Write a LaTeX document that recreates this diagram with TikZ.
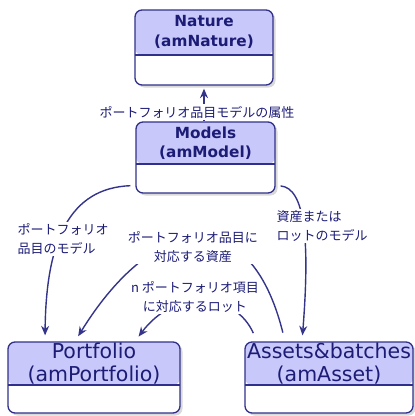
\documentclass[tikz,border=0pt]{standalone}
\usepackage{fontspec}
\setmainfont{DejaVu Sans}
\newfontfamily\jp{Noto Sans CJK JP}
\usetikzlibrary{arrows.meta,shadows,calc}
\definecolor{navy}{RGB}{28,28,118}
\definecolor{edge}{RGB}{48,48,138}
\definecolor{head}{RGB}{200,200,250}
\definecolor{wire}{RGB}{52,52,138}
\begin{document}
\begin{tikzpicture}[x=1pt,y=-1pt,
  box/.style={draw=edge, line width=1.3pt, rounded corners=7pt, fill=white,
    drop shadow={shadow xshift=2.5pt,shadow yshift=-2.5pt,opacity=0.3,fill=gray},
    inner sep=0pt},
  hdr/.style={path picture={
    \fill[head] (path picture bounding box.north west) rectangle ([yshift=-#1]path picture bounding box.north east);
    \draw[edge,line width=1.3pt] ([yshift=-#1]path picture bounding box.north west) -- ([yshift=-#1]path picture bounding box.north east);}},
  title/.style={font=\bfseries\fontsize{15.3}{19.5}\selectfont, text=navy, align=center, inner sep=0pt},
  bigtitle/.style={font=\fontsize{20.5}{23}\selectfont, text=navy, align=center, inner sep=0pt},
  lbl/.style={font=\jp\fontsize{13}{18.5}\selectfont, text=navy, fill=white, inner sep=1.5pt},
  arr/.style={draw=wire, line width=1.4pt, -{Stealth[length=9.5pt,width=8pt]}}
]
\useasboundingbox (0,0) rectangle (415,416);

% boxes
\node[box, hdr=45pt, minimum width=138pt, minimum height=75pt] (nat) at (204,47.5) {};
\node[title] (natT) at (204,32) {Nature\\(amNature)};
\node[box, hdr=42pt, minimum width=139pt, minimum height=71pt] (mod) at (205.5,157.5) {};
\node[title] (modT) at (205.5,143) {Models\\(amModel)};
\node[box, hdr=43pt, minimum width=172pt, minimum height=71pt] (port) at (94,377.5) {};
\node[bigtitle] (portT) at (94,364) {Portfolio\\(amPortfolio)};
\node[box, hdr=43pt, minimum width=168pt, minimum height=71pt] (asset) at (329,377.5) {};
\node[bigtitle] (assetT) at (329,364) {Assets\&batches\\(amAsset)};

% connectors
\draw[arr, shorten >=3pt] ([xshift=-1.5pt]mod.north) -- (nat.south);
\draw[arr, shorten <=5pt, shorten >=6pt] ([yshift=-28pt]mod.west) .. controls (70,188) and (46,240) .. ([xshift=-49pt]port.north);
\draw[arr, shorten <=5pt, shorten >=6pt] ([yshift=-28pt]mod.east) .. controls (305,188) and (310,240) .. ([xshift=-27pt]asset.north);
\draw[arr, shorten <=9pt, shorten >=6pt] ([xshift=-44pt]asset.north) .. controls (250,200) and (155,212) .. ([xshift=-19pt]port.north);
\draw[arr, shorten <=9pt, shorten >=6pt] ([xshift=-72pt]asset.north) .. controls (235,292) and (175,288) .. ([xshift=41pt]port.north);

% labels
\node[lbl] (l0) at (197,112) {ポートフォリオ品目モデルの属性};
\node[lbl, align=left, anchor=west] (l1) at (16,239) {ポートフォリオ\\品目のモデル};
\node[lbl, align=center] (l2) at (193,247) {ポートフォリオ品目に\\対応する資産};
\node[lbl, align=left, anchor=west] (l3) at (275,226) {資産または\\ロットのモデル};
\node[lbl, align=center] (l4) at (195,297) {n ポートフォリオ項目\\に対応するロット};
\end{tikzpicture}
\end{document}
